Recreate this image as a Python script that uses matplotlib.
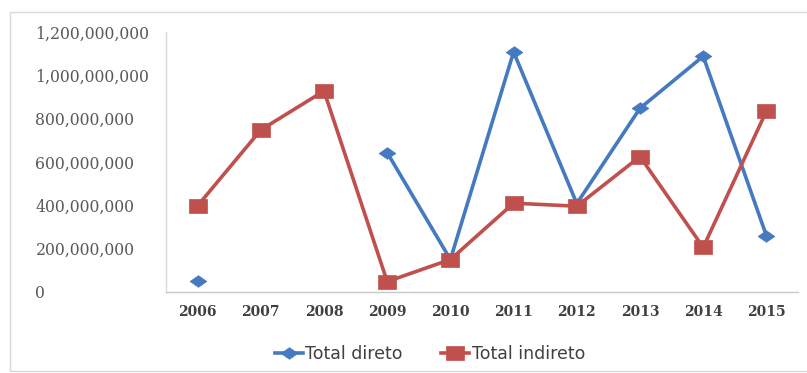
import matplotlib.pyplot as plt
import numpy as np
from matplotlib.patches import Rectangle
from matplotlib.ticker import FuncFormatter

# Totais por ano (R$), leitura do grafico
anos = ['2006', '2007', '2008', '2009', '2010', '2011', '2012', '2013', '2014', '2015']
total_direto = [50e6, np.nan, np.nan, 643e6, 150e6, 1108e6, 408e6, 848e6, 1088e6, 260e6]
total_indireto = [398e6, 748e6, 928e6, 48e6, 150e6, 410e6, 396e6, 625e6, 206e6, 835e6]

azul = '#4579C0'
vermelho = '#C0504D'

# marcadores um pouco mais largos que altos
losango = [(-1, 0), (0, 0.7), (1, 0), (0, -0.7), (-1, 0)]
quadrado = [(-1, -0.82), (1, -0.82), (1, 0.82), (-1, 0.82), (-1, -0.82)]

fig = plt.figure(figsize=(8.07, 3.73), dpi=100)
ax = fig.add_axes([166/807, 1-292/373, (798-166)/807, (292-32)/373])

x = np.arange(len(anos))
ax.plot(x, total_direto, color=azul, lw=2.6, marker=losango, ms=12,
        markeredgecolor=azul, markeredgewidth=0.5, label='Total direto', zorder=3)
ax.plot(x, total_indireto, color=vermelho, lw=2.6, marker=quadrado, ms=12.5,
        markeredgecolor=vermelho, markeredgewidth=0.5, label='Total indireto', zorder=3)

ax.set_xlim(-0.5, len(anos)-0.5)
ax.set_ylim(0, 1.2e9)
ax.set_yticks(np.arange(0, 1.2e9+1, 2e8))
ax.yaxis.set_major_formatter(FuncFormatter(lambda v, p: f'{v:,.0f}'))
ax.set_xticks(x)
ax.set_xticklabels(anos)

for lab in ax.get_yticklabels():
    lab.set_horizontalalignment('left')
    lab.set_fontfamily('DejaVu Serif')
    lab.set_fontsize(11.3)
    lab.set_color('#595959')
for lab in ax.get_xticklabels():
    lab.set_fontfamily('DejaVu Serif')
    lab.set_fontweight('bold')
    lab.set_fontsize(10)
    lab.set_color('#404040')

ax.tick_params(axis='y', length=0, pad=94)
ax.tick_params(axis='x', length=0, pad=9)

for s in ['top', 'right']:
    ax.spines[s].set_visible(False)
ax.spines['left'].set_color('#D9D9D9')
ax.spines['bottom'].set_color('#C8C8C8')
ax.spines['left'].set_linewidth(1.0)
ax.spines['bottom'].set_linewidth(1.0)

leg = fig.legend(loc='center', bbox_to_anchor=(430/807, 1-354/373), ncol=2,
                 frameon=False, handlelength=1.6, columnspacing=2.2,
                 handletextpad=0.15, prop={'family': 'DejaVu Sans', 'size': 12.5})
for t in leg.get_texts():
    t.set_color('#404040')

# moldura externa
fig.patches.append(Rectangle((10/807, 2/373), 1.0, 1-14/373, transform=fig.transFigure,
                             fill=False, edgecolor='#D9D9D9', lw=1.0))

fig.savefig('out.png', dpi=100)
